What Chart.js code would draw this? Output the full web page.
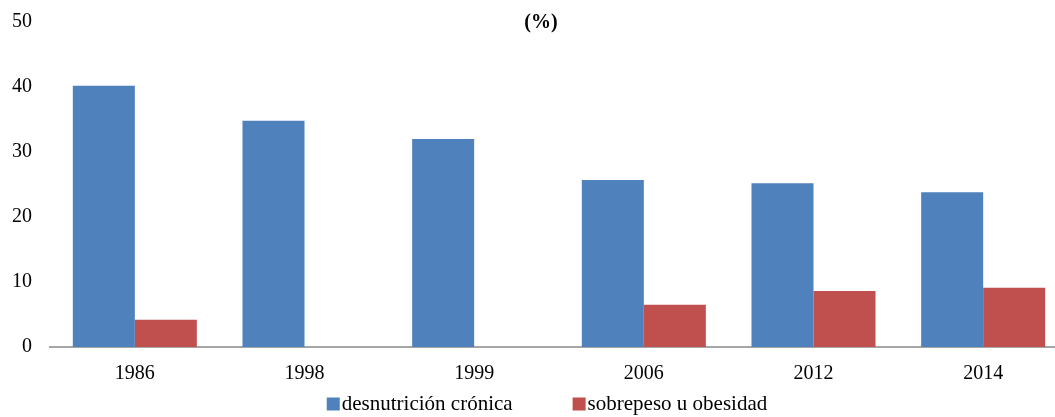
<!DOCTYPE html>
<html>
<head>
<meta charset="utf-8">
<script src="https://cdn.jsdelivr.net/npm/chart.js@4/dist/chart.umd.min.js"></script>
<style>
  html, body { margin: 0; padding: 0; background: #fff; overflow: hidden; }
  #wrap { width: 1055px; height: 417px; position: relative; overflow: hidden; }
  #c { display: block; }
</style>
</head>
<body>
<div id="wrap"><canvas id="c" width="1068" height="417"></canvas></div>
<script>
const categories = ['1986', '1998', '1999', '2006', '2012', '2014'];
const desnutricion = [40.2, 34.8, 32.0, 25.7, 25.2, 23.8];
const sobrepeso = [4.2, null, null, 6.5, 8.6, 9.1];
const seriesNames = ['desnutrición crónica', 'sobrepeso u obesidad'];
const yTicks = [0, 10, 20, 30, 40, 50];
const titleText = '(%)';

const FONT = "'Liberation Serif', 'Times New Roman', serif";

const overlay = {
  id: 'overlay',
  afterDraw(chart) {
    const ctx = chart.ctx;
    const area = chart.chartArea;
    const cx = chart.width / 2;
    ctx.save();
    // title
    ctx.font = 'bold 20px ' + FONT;
    ctx.fillStyle = '#000';
    ctx.textAlign = 'center';
    ctx.textBaseline = 'middle';
    ctx.fillText(titleText, cx + 7, area.top + 1);
    // legend
    ctx.font = '21px ' + FONT;
    ctx.textAlign = 'left';
    const box = 13, gapText = 2, gapItem = 60;
    const items = chart.data.datasets.map(d => ({ text: d.label, color: d.backgroundColor, w: ctx.measureText(d.label).width }));
    let total = 0;
    items.forEach((it, i) => { total += box + gapText + it.w + (i < items.length - 1 ? gapItem : 0); });
    let x = cx + 13 - total / 2;
    const y = 404;
    items.forEach(it => {
      ctx.fillStyle = it.color;
      ctx.fillRect(x, y - box / 2, box, box);
      x += box + gapText;
      ctx.fillStyle = '#000';
      ctx.fillText(it.text, x, y);
      x += it.w + gapItem;
    });
    ctx.restore();
  }
};

new Chart(document.getElementById('c'), {
  type: 'bar',
  data: {
    labels: categories,
    datasets: [
      { label: seriesNames[0], data: desnutricion, backgroundColor: '#4F81BD', borderWidth: 0 },
      { label: seriesNames[1], data: sobrepeso, backgroundColor: '#C0504D', borderWidth: 0 }
    ]
  },
  options: {
    responsive: false,
    animation: false,
    devicePixelRatio: 1,
    layout: { padding: { top: 22, right: 0, bottom: 32, left: 0 } },
    plugins: { legend: { display: false }, title: { display: false }, tooltip: { enabled: false } },
    datasets: { bar: { categoryPercentage: 0.731, barPercentage: 1.0 } },
    scales: {
      x: {
        grid: { display: false },
        border: { display: true, color: '#A6A6A6', width: 2 },
        ticks: { color: '#000', font: { family: FONT, size: 20 }, padding: 7 },
        afterFit(s) { s.height = 38; }
      },
      y: {
        min: 0, max: 50,
        grid: { display: false, drawTicks: false },
        border: { display: false },
        ticks: {
          color: '#000', font: { family: FONT, size: 20 }, padding: 18,
          stepSize: 10,
          callback: (v) => yTicks.includes(v) ? String(v) : ''
        },
        afterFit(s) { s.width = 50; s.paddingTop = 0; s.paddingBottom = 0; }
      }
    }
  },
  plugins: [overlay]
});
</script>
</body>
</html>
